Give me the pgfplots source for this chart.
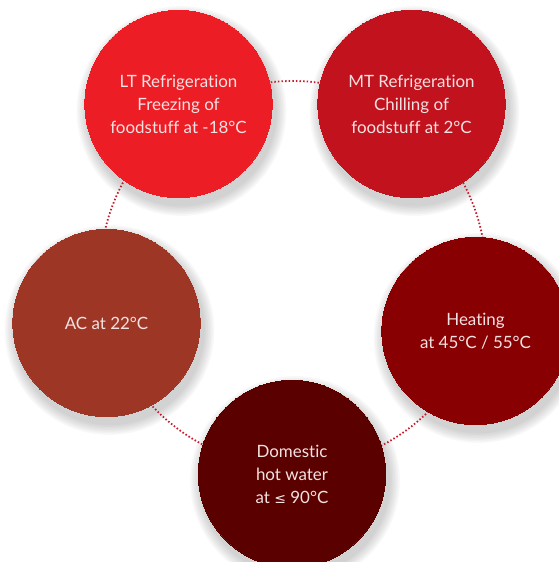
\documentclass[border=0pt]{standalone}
\usepackage{pgfplots}
\pgfplotsset{compat=1.18}
\usepackage{fontspec}
\setmainfont{Lato}[Ligatures=NoCommon]
\newfontfamily\dvfont{DejaVu Sans}

\definecolor{ltred}{RGB}{237,29,37}
\definecolor{mtred}{RGB}{193,18,29}
\definecolor{heatred}{RGB}{137,0,2}
\definecolor{dhwred}{RGB}{90,1,0}
\definecolor{acbrown}{RGB}{158,54,38}
\definecolor{ringred}{RGB}{196,28,44}
\definecolor{labeltext}{RGB}{244,226,226}

\begin{document}
\begin{tikzpicture}
\begin{axis}[
    width=559bp, height=562bp, scale only axis,
    xmin=0, xmax=559, ymin=0, ymax=562, y dir=reverse,
    hide axis, clip=true, clip marker paths=true,
    every node near coord/.append style={anchor=center, align=center,
        text=labeltext, font=\fontsize{17}{23}\selectfont},
]
\coordinate (sw) at (rel axis cs:0,0);
\coordinate (ne) at (rel axis cs:1,1);

% soft shadows
\pgfplotsinvokeforeach{1,...,7}{
\addplot[only marks, mark=*, mark size={93.7bp+#1*1.6bp},
    mark options={fill=black, draw opacity=0, line width=0pt, fill opacity=0.028}]
    coordinates {(181.5,111) (414.5,111) (478.5,338) (295,481) (109.5,330)};
}

% dotted ring
\addplot[only marks, mark=o, mark size=193bp,
    mark options={draw=ringred, line width=1.8bp, dash pattern=on 1.5bp off 2.1bp, fill=none}]
    coordinates {(293,274)};

% the five circles
\addplot[only marks, mark=*, mark size=93.7bp, mark options={fill=ltred, draw=ltred, line width=0pt},
    nodes near coords={LT Refrigeration\\Freezing of\\foodstuff at -18°C}]
    coordinates {(178.5,104)};
\addplot[only marks, mark=*, mark size=93.7bp, mark options={fill=mtred, draw=mtred, line width=0pt},
    nodes near coords={MT Refrigeration\\Chilling of\\foodstuff at 2°C}]
    coordinates {(411.5,104)};
\addplot[only marks, mark=*, mark size=93.7bp, mark options={fill=heatred, draw=heatred, line width=0pt},
    nodes near coords={Heating\\at 45°C / 55°C}]
    coordinates {(475.5,331)};
\addplot[only marks, mark=*, mark size=93.7bp, mark options={fill=dhwred, draw=dhwred, line width=0pt},
    nodes near coords={Domestic\\hot water\\at {\dvfont\fontsize{14}{23}\selectfont ≤} 90°C}]
    coordinates {(292,474)};
\addplot[only marks, mark=*, mark size=93.7bp, mark options={fill=acbrown, draw=acbrown, line width=0pt},
    nodes near coords={AC at 22°C}]
    coordinates {(106.5,323)};
\end{axis}
\pgfresetboundingbox
\useasboundingbox (sw) rectangle (ne);
\end{tikzpicture}
\end{document}
